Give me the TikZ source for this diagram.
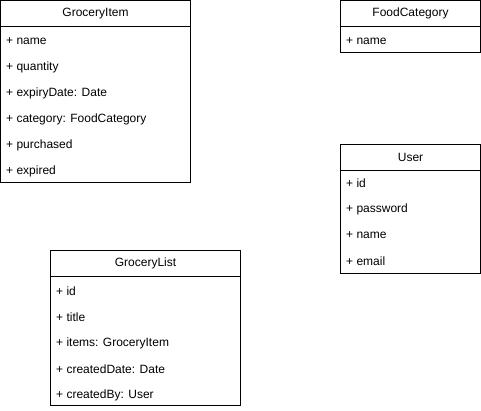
\documentclass[tikz,border=0pt]{standalone}
\usepackage{fontspec}
\setmainfont{Liberation Sans}
\begin{document}
\begin{tikzpicture}[x=1pt,y=-1pt,
  classbox/.style={draw=black, line width=1pt, anchor=north west, inner sep=0pt, outer sep=0pt},
  header/.style={draw=black, line width=1pt, anchor=north west, inner sep=0pt, outer sep=0pt, minimum height=26pt, font=\fontsize{12}{14}\selectfont},
  attr/.style={anchor=west, inner sep=0pt, font=\fontsize{12}{14}\selectfont}]
\useasboundingbox (0,0) rectangle (481,410);
% GroceryItem
\node[classbox, minimum width=190pt, minimum height=182pt] (gi) at (0.5,0.5) {};
\node[header, minimum width=190pt] (gih) at (0.5,0.5) {GroceryItem};
\node[attr] (gi1) at (6,41) {+ name};
\node[attr] (gi2) at (6,67) {+ quantity};
\node[attr] (gi3) at (6,93) {+ expiryDate: Date};
\node[attr] (gi4) at (6,119) {+ category: FoodCategory};
\node[attr] (gi5) at (6,145) {+ purchased};
\node[attr] (gi6) at (6,171) {+ expired};
% FoodCategory
\node[classbox, minimum width=140pt, minimum height=52pt] (fc) at (340.5,0.5) {};
\node[header, minimum width=140pt] (fch) at (340.5,0.5) {FoodCategory};
\node[attr] (fc1) at (346,41) {+ name};
% User
\node[classbox, minimum width=140pt, minimum height=129pt] (us) at (340.5,144.5) {};
\node[header, minimum width=140pt] (ush) at (340.5,144.5) {User};
\node[attr] (us1) at (346,183) {+ id};
\node[attr] (us2) at (346,209) {+ password};
\node[attr] (us3) at (346,235) {+ name};
\node[attr] (us4) at (346,261) {+ email};
% GroceryList
\node[classbox, minimum width=190pt, minimum height=155pt] (gl) at (50.5,250.5) {};
\node[header, minimum width=190pt] (glh) at (50.5,250.5) {GroceryList};
\node[attr] (gl1) at (56,291) {+ id};
\node[attr] (gl2) at (56,317) {+ title};
\node[attr] (gl3) at (56,343) {+ items: GroceryItem};
\node[attr] (gl4) at (56,369) {+ createdDate: Date};
\node[attr] (gl5) at (56,395) {+ createdBy: User};
\end{tikzpicture}
\end{document}
